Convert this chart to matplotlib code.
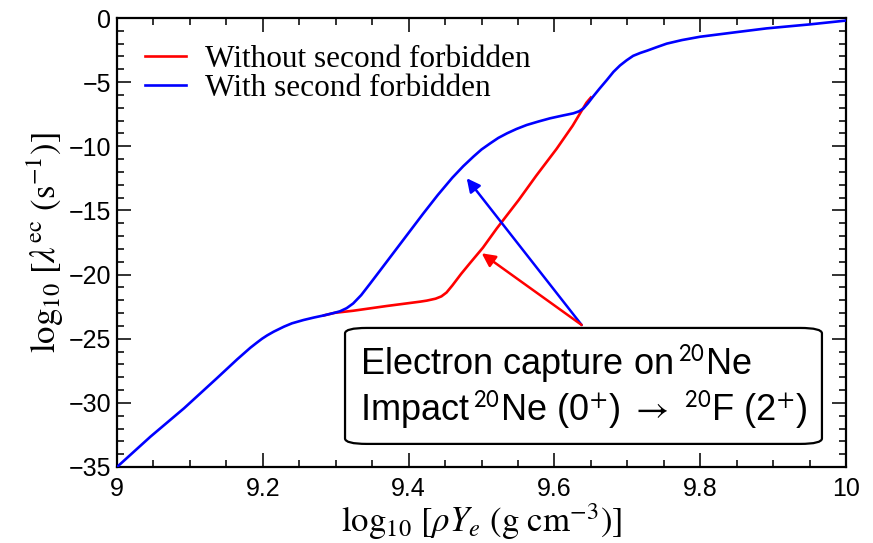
import matplotlib
matplotlib.use("Agg")
import matplotlib.pyplot as plt
from matplotlib.patches import FancyBboxPatch

plt.rcParams['mathtext.fontset'] = 'stix'

# Data
blue_x = [9.000, 9.046, 9.092, 9.137, 9.165, 9.183, 9.192, 9.199, 9.206, 9.215, 9.229,
          9.240, 9.256, 9.270, 9.284, 9.299, 9.306, 9.315, 9.324, 9.335, 9.347, 9.360,
          9.380, 9.400, 9.420, 9.440, 9.460, 9.475, 9.489, 9.500, 9.512, 9.523, 9.535,
          9.548, 9.562, 9.578, 9.594, 9.610, 9.626, 9.634, 9.640, 9.646, 9.653, 9.662,
          9.672, 9.681, 9.690, 9.699, 9.708, 9.718, 9.727, 9.740, 9.754, 9.775, 9.800,
          9.850, 9.891, 9.950, 10.000]
blue_y = [-35.0, -32.63, -30.42, -28.08, -26.6, -25.7, -25.3, -25.0, -24.74, -24.45, -24.06,
          -23.8, -23.54, -23.35, -23.18, -22.97, -22.86, -22.62, -22.25, -21.6, -20.72, -19.75,
          -18.25, -16.75, -15.25, -13.8, -12.45, -11.55, -10.8, -10.25, -9.77, -9.35, -8.99,
          -8.65, -8.34, -8.07, -7.82, -7.62, -7.43, -7.27, -7.04, -6.65, -6.13, -5.5,
          -4.83, -4.2, -3.7, -3.3, -2.95, -2.72, -2.55, -2.28, -2.0, -1.72, -1.46,
          -1.1, -0.81, -0.5, -0.2]

red_x = [9.284, 9.299, 9.324, 9.370, 9.416, 9.425, 9.437, 9.445, 9.452, 9.460, 9.472,
         9.484, 9.502, 9.521, 9.551, 9.575, 9.603, 9.625, 9.644, 9.650]
red_y = [-23.18, -22.98, -22.82, -22.45, -22.11, -22.03, -21.88, -21.7, -21.4, -20.85, -19.95,
         -19.12, -17.9, -16.4, -14.19, -12.3, -10.2, -8.4, -6.6, -6.2]

x_ticks = [9, 9.2, 9.4, 9.6, 9.8, 10]
x_ticklabels = ['9', '9.2', '9.4', '9.6', '9.8', '10']
y_ticks = [-35, -30, -25, -20, -15, -10, -5, 0]
y_ticklabels = ['\u221235', '\u221230', '\u221225', '\u221220', '\u221215', '\u221210', '\u22125', '0']

fig = plt.figure(figsize=(8.73, 5.43), dpi=100)
ax = fig.add_axes([117/873, 1-467/543, (846-117)/873, (467-18)/543])

ax.plot(red_x, red_y, color='#ff0000', lw=1.9, label='Without second forbidden', zorder=2)
ax.plot(blue_x, blue_y, color='#0000ff', lw=1.9, label='With second forbidden', zorder=3)

ax.set_xlim(9, 10)
ax.set_ylim(-35, 0)
ax.set_xticks(x_ticks)
ax.set_xticklabels(x_ticklabels, fontfamily='Liberation Sans', fontsize=18)
ax.set_yticks(y_ticks)
ax.set_yticklabels(y_ticklabels, fontfamily='Liberation Sans', fontsize=18)
ax.set_xticks([9 + 0.05*i for i in range(21)], minor=True)
ax.set_yticks(list(range(-35, 1)), minor=True)
ax.tick_params(which='both', direction='in', top=True, right=True, width=1.3, color='#222222')
ax.tick_params(which='major', length=10, pad=7)
ax.tick_params(which='minor', length=5)
ax.tick_params(axis='y', which='major', pad=4)
for s in ax.spines.values():
    s.set_linewidth(1.6)

ax.set_xlabel(r'$\log_{10}\,[\rho Y_e\ ({\rm g\ cm}^{-3})]$', fontsize=25, labelpad=0)
ax.set_ylabel(r'$\log_{10}\,[\lambda^{\rm ec}\ ({\rm s}^{-1})]$', fontsize=25, labelpad=2)

leg = ax.legend(loc='upper left', bbox_to_anchor=(0.013, 0.981), frameon=False,
                prop={'family': 'Liberation Serif', 'size': 22.5},
                handlelength=1.3, handletextpad=0.6, labelspacing=0.0, borderaxespad=0.2)

# annotation box
box = FancyBboxPatch((9.3128, -33.2), 9.967 - 9.3128, 33.2 - 24.16,
                     boxstyle='round,pad=0,rounding_size=0.03',
                     mutation_aspect=35/1*0.0813*5,
                     transform=ax.transData, facecolor='white', edgecolor='black',
                     lw=1.6, zorder=5)
ax.add_patch(box)
ax.text(9.333, -27.8, r'Electron capture on$\,^{\mathsf{20}}$Ne', fontsize=26,
        fontfamily='Liberation Sans', ha='left', va='baseline', zorder=6)
ax.text(9.333, -31.4,
        r'Impact$\,^{\mathsf{20}}$Ne (0$^{\mathsf{+}}$) $\rightarrow$ $^{\mathsf{20}}$F (2$^{\mathsf{+}}$)',
        fontsize=26, fontfamily='Liberation Sans', ha='left', va='baseline', zorder=6)

ax.annotate('', xy=(9.4797, -12.49), xytext=(9.6374, -23.93),
            arrowprops=dict(arrowstyle='-|>,head_length=0.8,head_width=0.4', color='#0000ff',
                            lw=1.8, shrinkA=0, shrinkB=0), zorder=4)
ax.annotate('', xy=(9.5003, -18.34), xytext=(9.6374, -23.93),
            arrowprops=dict(arrowstyle='-|>,head_length=0.8,head_width=0.4', color='#ff0000',
                            lw=1.8, shrinkA=0, shrinkB=0), zorder=4)

fig.savefig('out.png', dpi=100)
